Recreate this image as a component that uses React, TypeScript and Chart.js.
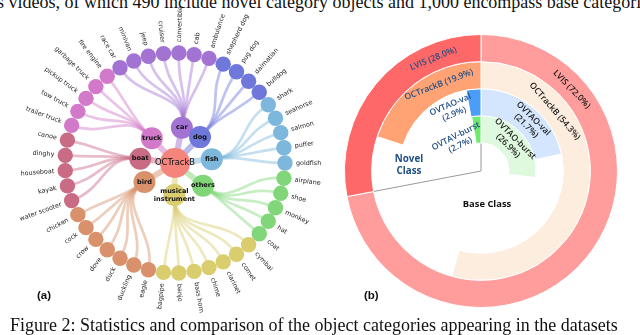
import React, { useEffect, useRef } from 'react';
import { Chart, registerables } from 'chart.js';
Chart.register(...registerables);

// ---------- Panel (a): OCTrackB category tree ----------
const rootName = 'OCTrackB';
const rootColor = '#F4847C';
const groupNames = ['car', 'dog', 'fish', 'others', 'musical\ninstrument', 'bird', 'boat', 'truck'];
const groupAngles = [11, 44, 84, 129, 181, 238, 277, 317];
const groupDistances = [36, 36, 37, 36, 32, 36, 35, 34];
const groupColors = ['#A373D4', '#6F77DA', '#7DB7DC', '#82D67A', '#D9CD6E', '#D8916B', '#C96B84', '#D279C9'];
const leafNames = [
  'convertible', 'cab', 'ambulance',
  'shepherd dog', 'pug dog', 'dalmatian', 'bulldog',
  'shark', 'seahorse', 'salmon', 'puffer', 'goldfish',
  'airplane', 'shoe', 'monkey', 'hat', 'coat',
  'cymbal', 'cornet', 'clarinet', 'chime', 'bass horn', 'banjo', 'bagpipe',
  'eagle', 'duckling', 'duck', 'dove', 'crow', 'cock', 'chicken',
  'water scooter', 'kayak', 'houseboat', 'dinghy', 'canoe',
  'trailer truck', 'tow truck', 'pickup truck', 'garbage truck', 'fire engine',
  'race car', 'minivan', 'jeep', 'cruiser',
];
const leafGroups = [
  0, 0, 0,
  1, 1, 1, 1,
  2, 2, 2, 2, 2,
  3, 3, 3, 3, 3,
  4, 4, 4, 4, 4, 4, 4,
  5, 5, 5, 5, 5, 5, 5,
  6, 6, 6, 6, 6,
  7, 7, 7, 7, 7,
  0, 0, 0, 0,
];

// ---------- Panel (b): novel / base class share ----------
const ringNames = ['LVIS', 'OCTrackB', 'OVTAO-val', 'OVTAO-burst'];
const novelNames = ['LVIS', 'OCTrackB', 'OVTAO-val', 'OVTAV-burst'];
const novelShare = [28.0, 19.9, 2.9, 2.7];
const baseShare = [72.0, 54.3, 21.7, 26.9];
const novelColors = ['#FF6868', '#FFA374', '#4A9EF8', '#6CEB6C'];
const baseColors = ['#FF9C9C', '#FDEDDF', '#D3E6FD', '#DEF9DE'];

// layout (not data)
const LEAF_R = 110;
const LEAF_START = 2;
const LEAF_STEP = 360 / leafNames.length;
const novelLabelPos = [
  { a: -23, r: 122, rot: -22, split: false },
  { a: -26, r: 96, rot: -21, split: false },
  { a: -25, r: 68, rot: -23, split: true },
  { a: -37, r: 38, rot: -27, split: true },
];
const baseLabelPos = [
  { a: 48, r: 122, rot: 46, split: false },
  { a: 51, r: 95, rot: 49, split: false },
  { a: 45, r: 69, rot: 45, split: true },
  { a: 47, r: 42, rot: 45, split: true },
];

const D2R = Math.PI / 180;
const toXY = (a: number, r: number) => ({ x: r * Math.sin(a * D2R), y: r * Math.cos(a * D2R) });
const leafAngle = (i: number) => LEAF_START + i * LEAF_STEP;
const rgba = (hex: string, al: number) => {
  const n = parseInt(hex.slice(1), 16);
  return `rgba(${(n >> 16) & 255},${(n >> 8) & 255},${n & 255},${al})`;
};

const treePlugin = {
  id: 'treeLinks',
  beforeDatasetsDraw(chart: any) {
    const { ctx } = chart;
    const xs = chart.scales.x, ys = chart.scales.y;
    const P = (a: number, r: number) => {
      const p = toXY(a, r);
      return [xs.getPixelForValue(p.x), ys.getPixelForValue(p.y)];
    };
    ctx.save();
    ctx.lineCap = 'round';
    groupNames.forEach((_, k) => {
      const [x0, y0] = P(0, 0);
      const [x1, y1] = P(groupAngles[k], groupDistances[k]);
      ctx.strokeStyle = rgba(groupColors[k], 0.5);
      ctx.lineWidth = 6;
      ctx.beginPath(); ctx.moveTo(x0, y0); ctx.lineTo(x1, y1); ctx.stroke();
    });
    leafNames.forEach((_, i) => {
      const k = leafGroups[i];
      const am = groupAngles[k], rm = groupDistances[k];
      const al = leafAngle(i);
      const rmid = (rm + LEAF_R) / 2;
      const [sx, sy] = P(am, rm);
      const [c1x, c1y] = P(am, rmid);
      const [c2x, c2y] = P(al, rmid);
      const [ex, ey] = P(al, LEAF_R);
      ctx.strokeStyle = rgba(groupColors[k], 0.45);
      ctx.lineWidth = 2.7;
      ctx.beginPath(); ctx.moveTo(sx, sy); ctx.bezierCurveTo(c1x, c1y, c2x, c2y, ex, ey); ctx.stroke();
    });
    ctx.restore();
  },
  afterDatasetsDraw(chart: any) {
    const { ctx } = chart;
    const xs = chart.scales.x, ys = chart.scales.y;
    const cx = xs.getPixelForValue(0), cy = ys.getPixelForValue(0);
    ctx.save();
    ctx.fillStyle = '#222';
    ctx.font = '6.4px "DejaVu Sans"';
    ctx.textBaseline = 'middle';
    leafNames.forEach((name, i) => {
      const a = leafAngle(i);
      const th = (a - 90) * D2R;
      ctx.save();
      ctx.translate(cx, cy);
      if (a < 180) {
        ctx.rotate(th);
        ctx.textAlign = 'left';
        ctx.fillText(name, LEAF_R + 11, 0);
      } else {
        ctx.rotate(th + Math.PI);
        ctx.textAlign = 'right';
        ctx.fillText(name, -(LEAF_R + 11), 0);
      }
      ctx.restore();
    });
    ctx.fillStyle = '#111';
    ctx.textAlign = 'center';
    ctx.font = 'bold 6.6px "DejaVu Sans"';
    groupNames.forEach((g, k) => {
      const p = toXY(groupAngles[k], groupDistances[k]);
      const x = xs.getPixelForValue(p.x), y = ys.getPixelForValue(p.y);
      const lines = g.split('\n');
      lines.forEach((l, j) => ctx.fillText(l, x, y + (j - (lines.length - 1) / 2) * 8));
    });
    ctx.font = '8.4px "DejaVu Sans"';
    ctx.fillText(rootName, cx, cy);
    ctx.restore();
  },
};

const ringPlugin = {
  id: 'ringDecor',
  beforeDatasetsDraw(chart: any) {
    const { ctx } = chart;
    const meta = chart.getDatasetMeta(0);
    const arc = meta.data[0];
    const novelArc = meta.data[2];
    const cx = arc.x, cy = arc.y, R = arc.outerRadius;
    ctx.save();
    ctx.strokeStyle = '#9a9a9a';
    ctx.lineWidth = 1;
    [-Math.PI / 2, novelArc.startAngle].forEach((ang: number) => {
      ctx.beginPath();
      ctx.moveTo(cx, cy);
      ctx.lineTo(cx + R * Math.cos(ang), cy + R * Math.sin(ang));
      ctx.stroke();
    });
    ctx.restore();
  },
  afterDatasetsDraw(chart: any) {
    const { ctx } = chart;
    const arc = chart.getDatasetMeta(0).data[0];
    const cx = arc.x, cy = arc.y;
    const put = (a: number, r: number, rot: number, lines: string[], font: string, color: string) => {
      ctx.save();
      ctx.translate(cx + r * Math.sin(a * D2R), cy - r * Math.cos(a * D2R));
      ctx.rotate(rot * D2R);
      ctx.font = font;
      ctx.fillStyle = color;
      ctx.textAlign = 'center';
      ctx.textBaseline = 'middle';
      lines.forEach((l, j) => ctx.fillText(l, 0, (j - (lines.length - 1) / 2) * 10));
      ctx.restore();
    };
    const font = '600 8.6px "Open Sans"';
    ringNames.forEach((name, i) => {
      const nTxt = `(${novelShare[i].toFixed(1)}%)`;
      const np = novelLabelPos[i];
      put(np.a, np.r, np.rot, np.split ? [novelNames[i], nTxt] : [`${novelNames[i]} ${nTxt}`], font, '#1F4E85');
      const bTxt = `(${baseShare[i].toFixed(1)}%)`;
      const bp = baseLabelPos[i];
      put(bp.a, bp.r, bp.rot, bp.split ? [name, bTxt] : [`${name} ${bTxt}`], font, '#1a1a1a');
    });
    ctx.save();
    ctx.textAlign = 'center';
    ctx.textBaseline = 'middle';
    ctx.font = 'bold 9.8px "Open Sans"';
    ctx.fillStyle = '#1F4E85';
    ctx.fillText('Novel', cx - 72, cy - 12);
    ctx.fillText('Class', cx - 72, cy + 0.5);
    ctx.fillStyle = '#111';
    ctx.font = 'bold 9.4px "Open Sans"';
    ctx.fillText('Base Class', cx + 6, cy + 33);
    ctx.restore();
  },
};

export default function App() {
  const treeRef = useRef<HTMLCanvasElement>(null);
  const ringRef = useRef<HTMLCanvasElement>(null);

  useEffect(() => {
    const leafPts = leafNames.map((_, i) => ({ ...toXY(leafAngle(i), LEAF_R), r: 7.7 }));
    const groupPts = groupNames.map((_, k) => ({ ...toXY(groupAngles[k], groupDistances[k]), r: 11 }));
    const tree = new Chart(treeRef.current as HTMLCanvasElement, {
      type: 'bubble',
      data: {
        datasets: [
          { label: rootName, data: [{ x: 0, y: 0, r: 15 }], backgroundColor: rootColor, borderWidth: 0, order: 0 } as any,
          { label: 'groups', data: groupPts, backgroundColor: groupColors, borderWidth: 0, order: 1 } as any,
          { label: 'leaves', data: leafPts, backgroundColor: leafGroups.map((k) => groupColors[k]), borderWidth: 0, order: 2 } as any,
        ],
      },
      options: {
        animation: false,
        responsive: false,
        events: [],
        layout: { padding: 0, autoPadding: false },
        scales: {
          x: { type: 'linear', min: -175, max: 175, display: false },
          y: { type: 'linear', min: -162, max: 163, display: false },
        },
        plugins: { legend: { display: false }, tooltip: { enabled: false } },
      } as any,
      plugins: [treePlugin],
    });

    const ring = new Chart(ringRef.current as HTMLCanvasElement, {
      type: 'doughnut',
      data: {
        labels: ['Base Class', '', 'Novel Class'],
        datasets: ringNames.map((name, i) => ({
          label: name,
          data: [baseShare[i], 100 - baseShare[i] - novelShare[i], novelShare[i]],
          backgroundColor: [baseColors[i], 'rgba(0,0,0,0)', novelColors[i]],
          borderColor: ['#ffffff', 'rgba(0,0,0,0)', '#ffffff'],
          borderWidth: 1,
          hoverOffset: 0,
        })),
      },
      options: {
        animation: false,
        responsive: false,
        events: [],
        cutout: '20.5%',
        rotation: 0,
        circumference: 360,
        layout: { padding: 0, autoPadding: false },
        plugins: { legend: { display: false }, tooltip: { enabled: false } },
      } as any,
      plugins: [ringPlugin],
    });

    return () => {
      tree.destroy();
      ring.destroy();
    };
  }, []);

  return (
    <div style={{ position: 'absolute', left: 0, top: 0, width: 640, height: 335, overflow: 'hidden', background: '#fff' }}>
      <div style={{ position: 'absolute', left: -3, top: -8, whiteSpace: 'nowrap', font: '18px "Liberation Serif"', color: '#111' }}>
        s videos, of which 490 include novel category objects and 1,000 encompass base categories
      </div>
      <canvas ref={treeRef} width={350} height={325} style={{ position: 'absolute', left: 0, top: 0 }} />
      <canvas ref={ringRef} width={274} height={274} style={{ position: 'absolute', left: 344, top: 34 }} />
      <div style={{ position: 'absolute', left: 37, top: 289, font: 'bold 11.5px "Liberation Sans"', color: '#111' }}>(a)</div>
      <div style={{ position: 'absolute', left: 364, top: 289, font: 'bold 11.5px "Liberation Sans"', color: '#111' }}>(b)</div>
      <div style={{ position: 'absolute', left: 10, top: 315, whiteSpace: 'nowrap', font: '18px "Liberation Serif"', color: '#111' }}>
        Figure 2: Statistics and comparison of the object categories appearing in the datasets
      </div>
    </div>
  );
}
